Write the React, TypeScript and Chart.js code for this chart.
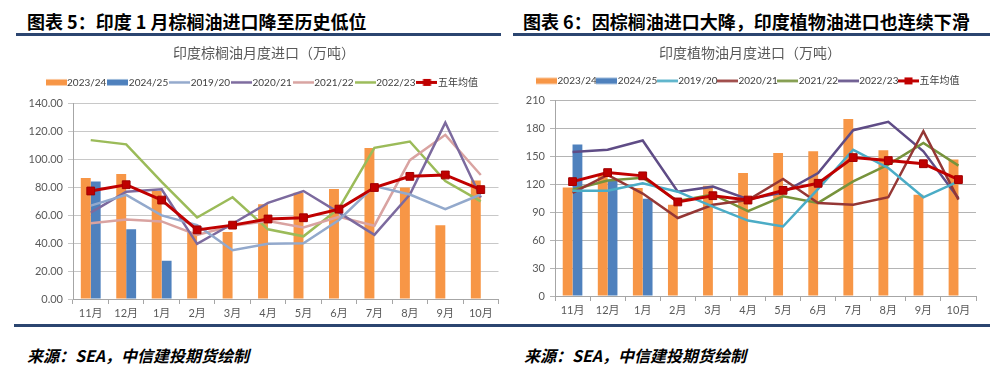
import React, { useEffect, useRef } from 'react';
import { Chart, registerables, layouts } from 'chart.js';

Chart.register(...registerables);

// ---------- data ----------
const months = ['11月', '12月', '1月', '2月', '3月', '4月', '5月', '6月', '7月', '8月', '9月', '10月'];
const seriesNames = ['2023/24', '2024/25', '2019/20', '2020/21', '2021/22', '2022/23', '五年均值'];

// Left: India palm oil monthly imports (10k tonnes)
const palm2324 = [86.8, 89.7, 77.5, 48, 48, 68, 76.3, 79, 108.3, 80, 52.9, 85.1];
const palm2425 = [84.4, 50, 27.5, null, null, null, null, null, null, null, null, null];
const palm1920 = [67, 74.7, 60, 53, 35, 39.6, 40, 56.7, 81, 75, 64.5, 75];
const palm2021 = [62, 77, 78.7, 39.6, 54, 69, 77.5, 62, 46, 75, 126.6, 72.8];
const palm2122 = [54.3, 57, 55.7, 46, 52.6, 56, 51.4, 59, 52.6, 99.6, 117.8, 89];
const palm2223 = [114, 111, 84, 58.5, 73, 50, 45, 65, 108.5, 113, 84.6, 70];
const palmAvg = [77.5, 82, 71, 49.6, 53, 57.4, 58.3, 64.5, 80, 88, 89, 78.5];
const palmTicks = { max: 140, step: 20 };

// Right: India vegetable oil monthly imports (10k tonnes)
const veg2324 = [116.6, 130, 116, 98, 118.5, 132, 153.6, 155.4, 190, 156.5, 108.8, 146.5];
const veg2425 = [162.6, 124, 104.5, null, null, null, null, null, null, null, null, null];
const veg1920 = [113, 113, 121, 112, 96, 81, 74.6, 115, 157, 137.5, 106, 123];
const veg2021 = [110.6, 130, 110, 83.7, 98, 103, 125.6, 99.8, 98, 106, 177, 103.4];
const veg2122 = [114, 124, 127, 102, 109, 91, 107, 100, 123, 141, 164.4, 140];
const veg2223 = [154.7, 157, 167, 112, 117.4, 104, 111, 132, 178, 187, 155.4, 105];
const vegAvg = [122.8, 132.5, 129, 101, 107.7, 103, 113.4, 121, 148.6, 145.4, 142, 125];
const vegTicks = { max: 210, step: 30 };

// ---------- styles ----------
const FONT = "Lato, 'Noto Sans CJK SC', sans-serif";
const NAVY = '#2B4570';
const leftColors = ['#F79646', '#4F81BD', '#93A9CC', '#7C6A9E', '#D9A3A1', '#9BBB59', '#C00000'];
const rightColors = ['#F79646', '#4F81BD', '#4BACC6', '#953735', '#77933C', '#5F4C86', '#C00000'];

type Kind = 'bar' | 'line' | 'avg';
const kinds: Kind[] = ['bar', 'bar', 'line', 'line', 'line', 'line', 'avg'];

function makeIcon(kind: Kind, color: string) {
  const c = document.createElement('canvas');
  c.width = 21;
  c.height = 9;
  const g = c.getContext('2d')!;
  if (kind === 'bar') {
    g.fillStyle = color;
    g.fillRect(0, 1.5, 21, 6);
  } else {
    g.strokeStyle = color;
    g.lineWidth = kind === 'avg' ? 3 : 2.5;
    g.beginPath();
    g.moveTo(0, 4.5);
    g.lineTo(21, 4.5);
    g.stroke();
    if (kind === 'avg') {
      g.fillStyle = color;
      g.fillRect(6.5, 1, 8, 7);
    }
  }
  return c;
}

// empty layout box placed between the legend and the plot area
function spacerPlugin(h: number) {
  return {
    id: 'spacer',
    beforeInit(chart: any) {
      const box: any = {
        position: 'top',
        weight: 500,
        fullSize: true,
        options: { stackWeight: 1 },
        left: 0,
        top: 0,
        right: 0,
        bottom: 0,
        width: 0,
        height: 0,
        isHorizontal() {
          return true;
        },
        update(maxWidth: number) {
          this.width = maxWidth;
          this.height = h;
        },
        draw() {},
      };
      layouts.addBox(chart, box);
    },
  };
}

interface PanelProps {
  title: string;
  data: (number | null)[][];
  colors: string[];
  yMax: number;
  yStep: number;
  decimals: number;
  gridColor: string;
  padLeft: number;
  padRight: number;
  yWidth: number;
  xHeight: number;
  spacer: number;
  legendPad: number;
}

function Panel(p: PanelProps) {
  const ref = useRef<HTMLCanvasElement>(null);
  useEffect(() => {
    if (!ref.current) return;
    const icons = kinds.map((k, i) => makeIcon(k, p.colors[i]));
    const datasets: any[] = p.data.map((d, i) => {
      const k = kinds[i];
      if (k === 'bar') {
        return {
          type: 'bar',
          label: seriesNames[i],
          data: d,
          backgroundColor: p.colors[i],
          categoryPercentage: 0.56,
          barPercentage: 1,
          order: 2,
        };
      }
      if (k === 'line') {
        return {
          type: 'line',
          label: seriesNames[i],
          data: d,
          borderColor: p.colors[i],
          backgroundColor: p.colors[i],
          borderWidth: 2.5,
          pointRadius: 0,
          tension: 0,
          fill: false,
          order: 1,
        };
      }
      return {
        type: 'line',
        label: seriesNames[i],
        data: d,
        borderColor: p.colors[i],
        backgroundColor: p.colors[i],
        borderWidth: 3,
        pointStyle: 'rect',
        pointRadius: 5.5,
        pointBackgroundColor: '#C00000',
        pointBorderColor: '#A00000',
        pointBorderWidth: 1,
        tension: 0,
        fill: false,
        order: 0,
      };
    });
    let chart: Chart | null = null;
    try {
      chart = new Chart(ref.current, {
        type: 'bar',
        data: { labels: months, datasets },
        plugins: [spacerPlugin(p.spacer)],
        options: {
          animation: false,
          responsive: false,
          maintainAspectRatio: false,
          layout: { padding: { left: p.padLeft, right: p.padRight, top: 0, bottom: 0 } },
          plugins: {
            tooltip: { enabled: false },
            title: {
              display: true,
              text: p.title,
              color: '#595959',
              font: { family: "'Noto Sans CJK SC', sans-serif", size: 14, weight: 'normal' },
              padding: { top: 6.6, bottom: 10.5 },
            },
            legend: {
              display: true,
              position: 'top',
              labels: {
                usePointStyle: true,
                pointStyleWidth: 12,
                boxHeight: 9,
                padding: p.legendPad,
                color: '#404040',
                font: { family: FONT, size: 10 },
                generateLabels: (ch: any) =>
                  ch.data.datasets.map((ds: any, i: number) => ({
                    text: ds.label,
                    pointStyle: icons[i],
                    datasetIndex: i,
                    hidden: false,
                    fillStyle: 'transparent',
                    strokeStyle: 'transparent',
                    lineWidth: 0,
                    fontColor: '#404040',
                  })),
              },
            },
          },
          scales: {
            x: {
              grid: {
                display: true,
                drawOnChartArea: false,
                drawTicks: true,
                tickLength: 5,
                color: '#A6A6A6',
                offset: true,
              },
              border: { display: true, color: '#A6A6A6' },
              ticks: { color: '#595959', font: { family: FONT, size: 11 }, padding: 3 },
              afterFit: (s: any) => {
                s.height = p.xHeight;
              },
            },
            y: {
              min: 0,
              max: p.yMax,
              ticks: {
                stepSize: p.yStep,
                color: '#595959',
                font: { family: FONT, size: 11 },
                padding: 5,
                callback: (v: any) => Number(v).toFixed(p.decimals),
              },
              grid: { color: p.gridColor, tickLength: 5, drawTicks: true },
              border: { display: true, color: '#A6A6A6' },
              afterFit: (s: any) => {
                s.width = p.yWidth;
              },
            },
          },
        } as any,
      });
    } catch (e) {
      console.error(e);
    }
    return () => {
      if (chart) chart.destroy();
    };
  }, []);
  return <canvas ref={ref} width={490} height={287} />;
}

const titleStyle: React.CSSProperties = {
  position: 'absolute',
  top: 9,
  fontFamily: "'Noto Sans CJK SC', sans-serif",
  fontWeight: 700,
  fontSize: 18,
  lineHeight: '24px',
  color: '#000',
  whiteSpace: 'nowrap',
};

const sourceStyle: React.CSSProperties = {
  position: 'absolute',
  top: 343,
  fontFamily: "'Noto Sans CJK SC', sans-serif",
  fontWeight: 700,
  fontStyle: 'italic',
  fontSize: 16,
  lineHeight: '24px',
  color: '#000',
  whiteSpace: 'nowrap',
};

export default function App() {
  return (
    <div
      style={{
        position: 'absolute',
        left: 0,
        top: 0,
        width: 1007,
        height: 381,
        background: '#fff',
        overflow: 'hidden',
      }}
    >
      <div style={{ ...titleStyle, left: 27 }}>图表 5：印度 1 月棕榈油进口降至历史低位</div>
      <div style={{ ...titleStyle, left: 523 }}>图表 6：因棕榈油进口大降，印度植物油进口也连续下滑</div>
      <div style={{ position: 'absolute', left: 16, top: 33, width: 485, height: 3, background: NAVY }} />
      <div style={{ position: 'absolute', left: 513, top: 33, width: 477, height: 3, background: NAVY }} />

      <div style={{ position: 'absolute', left: 15, top: 38 }}>
        <Panel
          title="印度棕榈油月度进口（万吨）"
          data={[palm2324, palm2425, palm1920, palm2021, palm2122, palm2223, palmAvg]}
          colors={leftColors}
          yMax={palmTicks.max}
          yStep={palmTicks.step}
          decimals={2}
          gridColor="#C8C8C8"
          padLeft={13}
          padRight={5}
          yWidth={45}
          xHeight={26}
          spacer={6.5}
          legendPad={5.5}
        />
      </div>
      <div style={{ position: 'absolute', left: 510, top: 38 }}>
        <Panel
          title="印度植物油月度进口（万吨）"
          data={[veg2324, veg2425, veg1920, veg2021, veg2122, veg2223, vegAvg]}
          colors={rightColors}
          yMax={vegTicks.max}
          yStep={vegTicks.step}
          decimals={0}
          gridColor="#B4B4B4"
          padLeft={14}
          padRight={24}
          yWidth={31}
          xHeight={29}
          spacer={4.5}
          legendPad={4}
        />
      </div>

      <div style={{ position: 'absolute', left: 14, top: 324, width: 499, height: 3, background: NAVY }} />
      <div style={{ position: 'absolute', left: 513, top: 324, width: 477, height: 3, background: NAVY }} />

      <div style={{ ...sourceStyle, left: 27 }}>来源：SEA，中信建投期货绘制</div>
      <div style={{ ...sourceStyle, left: 524 }}>来源：SEA，中信建投期货绘制</div>
    </div>
  );
}
